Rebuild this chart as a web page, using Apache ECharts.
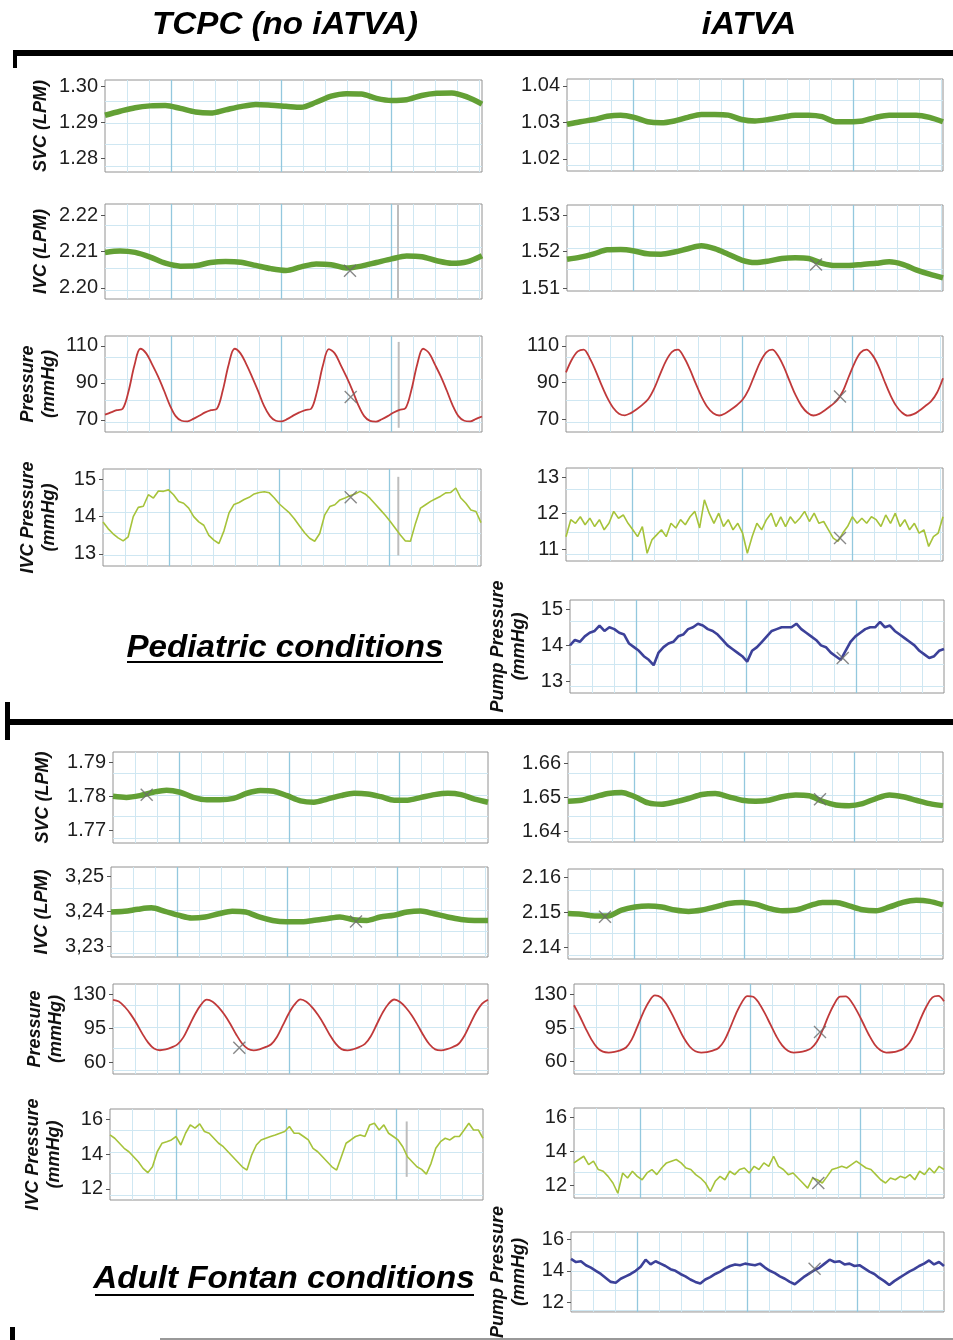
<!DOCTYPE html>
<html>
<head>
<meta charset="utf-8">
<title>TCPC vs iATVA waveforms</title>
<script src="https://cdn.jsdelivr.net/npm/echarts@6/dist/echarts.min.js"></script>
<style>
html,body{margin:0;padding:0;background:#fff}
#chart{width:953px;height:1340px}
</style>
</head>
<body>
<div id="chart"></div>
<script>

// pediatric, TCPC (no iATVA)
const pedTcpcSvc = [1.2919, 1.2930, 1.2940, 1.2945, 1.2946, 1.2938, 1.2928, 1.2925, 1.2934, 1.2943, 1.2949, 1.2947, 1.2944, 1.2941, 1.2955, 1.2972, 1.2979, 1.2978, 1.2966, 1.2960, 1.2962, 1.2974, 1.2980, 1.2981, 1.2970, 1.2950]
const pedTcpcIvc = [2.2098, 2.2102, 2.2098, 2.2085, 2.2068, 2.2060, 2.2061, 2.2070, 2.2073, 2.2071, 2.2062, 2.2053, 2.2048, 2.2058, 2.2066, 2.2064, 2.2055, 2.2060, 2.2070, 2.2080, 2.2088, 2.2086, 2.2075, 2.2068, 2.2072, 2.2089]
const pedTcpcPress = [72.8, 74, 75.2,
  76, 85.5, 99.5, 108.5, 106, 100, 93.5, 86, 78, 72, 69.5, 69.2, 70.5, 72.2, 74, 75.2,
  76, 86, 100, 108.5, 106, 100, 93, 85.5, 77.5, 72, 69.5, 69.2, 70.5, 72.4, 74, 75.3,
  76, 85.5, 99.5, 108.3, 106, 99.8, 93.2, 86, 78, 72, 69.4, 69, 70.3, 72, 74, 75.4,
  76.2, 86, 100, 108.5, 106.2, 100, 93.5, 86, 78, 72, 69.5, 69.2, 70.5, 71.8]
const pedTcpcIvcP = [13.86, 13.68, 13.54, 13.43, 13.35, 13.46, 14.0, 14.25, 14.28, 14.59, 14.5, 14.69, 14.68, 14.72, 14.59, 14.41, 14.36, 14.23, 14.0, 13.86, 13.77, 13.5, 13.37, 13.28, 13.62, 14.1, 14.33, 14.38, 14.46, 14.52, 14.61, 14.65, 14.67, 14.64, 14.5, 14.34, 14.22, 14.1, 13.94, 13.75, 13.57, 13.42, 13.34, 13.55, 14.05, 14.27, 14.32, 14.45, 14.5, 14.56, 14.61, 14.68, 14.61, 14.49, 14.34, 14.19, 14.04, 13.87, 13.69, 13.51, 13.35, 13.34, 13.82, 14.23, 14.32, 14.41, 14.48, 14.55, 14.64, 14.65, 14.77, 14.5, 14.36, 14.18, 14.14, 13.84]

// pediatric, iATVA
const pedIatvaSvc = [1.0295, 1.0302, 1.0308, 1.0317, 1.0320, 1.0314, 1.0302, 1.0299, 1.0304, 1.0314, 1.0322, 1.0322, 1.0320, 1.0308, 1.0304, 1.0308, 1.0314, 1.0320, 1.0320, 1.0316, 1.0302, 1.0302, 1.0304, 1.0314, 1.0320, 1.0320, 1.0320, 1.0314, 1.0302]
const pedIatvaIvc = [1.5179, 1.5185, 1.5194, 1.5205, 1.5206, 1.5202, 1.5194, 1.5193, 1.5199, 1.5208, 1.5216, 1.5208, 1.5193, 1.5177, 1.5170, 1.5174, 1.5181, 1.5183, 1.5181, 1.5168, 1.5162, 1.5162, 1.5165, 1.5168, 1.5172, 1.5165, 1.5150, 1.5138, 1.5128]
const pedIatvaPress = [95.6, 102.6, 107, 108, 103.5, 96.7, 88.9, 81.8, 76.3, 73.1, 72.2, 73.4, 75.5, 78, 81.2, 87, 94.8, 102, 106.8, 108, 104, 97.5, 89.7, 82.4, 76.7, 73.3, 72.1, 73.2, 75.3, 77.7, 80.8, 86.2, 94, 101.4, 106.5, 108, 104.6, 98.4, 90.5, 83, 77.2, 73.6, 72.1, 73, 75.1, 77.5, 80.3, 85.3, 93.2, 100.8, 106.3, 108, 105.1, 99.3, 91.3, 83.7, 77.6, 73.8, 72, 72.8, 74.8, 77.3, 79.9, 84.6, 92.4]
const pedIatvaIvcP = [11.35, 11.82, 11.72, 11.9, 11.68, 11.86, 11.63, 11.82, 11.54, 11.72, 12.05, 11.86, 11.95, 11.72, 11.54, 11.35, 11.63, 10.89, 11.26, 11.4, 11.54, 11.35, 11.72, 11.59, 11.82, 11.68, 11.9, 12.05, 11.59, 12.37, 12.0, 11.72, 12.0, 11.63, 11.82, 11.54, 11.72, 11.45, 10.89, 11.35, 11.72, 11.54, 11.82, 12.0, 11.63, 11.9, 11.63, 11.9, 11.72, 11.86, 12.05, 11.77, 12.0, 11.72, 11.77, 11.54, 11.31, 11.22, 11.45, 11.63, 11.9, 11.72, 11.86, 11.72, 11.9, 11.82, 11.63, 11.95, 11.72, 12.0, 11.63, 11.82, 11.54, 11.72, 11.45, 11.54, 11.08, 11.35, 11.45, 11.9]
const pedIatvaPump = [14.0, 14.15, 14.1, 14.25, 14.35, 14.4, 14.55, 14.4, 14.5, 14.45, 14.35, 14.3, 14.05, 13.95, 13.85, 13.7, 13.6, 13.45, 13.8, 13.95, 14.05, 14.1, 14.25, 14.3, 14.45, 14.5, 14.6, 14.55, 14.45, 14.4, 14.3, 14.15, 14.0, 13.9, 13.8, 13.7, 13.55, 13.85, 13.95, 14.1, 14.25, 14.4, 14.45, 14.5, 14.5, 14.5, 14.6, 14.45, 14.35, 14.25, 14.15, 14.0, 13.95, 13.8, 13.7, 13.6, 13.85, 14.1, 14.25, 14.35, 14.45, 14.5, 14.5, 14.65, 14.5, 14.55, 14.4, 14.3, 14.2, 14.1, 14.0, 13.85, 13.75, 13.65, 13.7, 13.85, 13.9]

// adult Fontan, TCPC (no iATVA)
const adultTcpcSvc = [1.7800, 1.7797, 1.7802, 1.7812, 1.7818, 1.7812, 1.7797, 1.7790, 1.7790, 1.7794, 1.7809, 1.7817, 1.7815, 1.7802, 1.7787, 1.7783, 1.7792, 1.7802, 1.7809, 1.7807, 1.7799, 1.7789, 1.7789, 1.7797, 1.7805, 1.7809, 1.7805, 1.7792, 1.7783]
const adultTcpcIvc = [3.2397, 3.2399, 3.2405, 3.2409, 3.2399, 3.2388, 3.2380, 3.2383, 3.2392, 3.2399, 3.2397, 3.2383, 3.2373, 3.2369, 3.2369, 3.2373, 3.2378, 3.2383, 3.2375, 3.2373, 3.2383, 3.2388, 3.2397, 3.2400, 3.2392, 3.2383, 3.2376, 3.2373, 3.2373]
const adultTcpcPress = [124.1, 122.4, 117, 109.5, 100.2, 89.6, 80.4, 74.4, 72.7, 73.5, 75.6, 78.7, 85.8, 97.4, 109.4, 118.9, 124.2, 122.2, 116.7, 109.1, 99.7, 89, 79.8, 74.2, 72.6, 73.6, 75.8, 78.8, 86.5, 98.2, 110.2, 119.4, 124.5, 122.1, 116.3, 108.5, 99, 88.3, 79.4, 73.8, 72.6, 73.7, 75.9, 79.1, 87, 98.9, 110.8, 119.8, 124.4, 121.8, 116, 108.1, 98.3, 87.7, 78.8, 73.6, 72.6, 73.8, 76, 79.3, 87.7, 99.8, 111.6, 120.3, 124.2]
const adultTcpcIvcP = [15.12, 14.93, 14.64, 14.35, 14.15, 13.86, 13.57, 13.19, 12.94, 13.28, 14.15, 14.64, 14.73, 14.83, 15.03, 14.54, 15.22, 15.7, 15.51, 15.76, 15.32, 15.22, 14.93, 14.64, 14.44, 14.15, 13.86, 13.57, 13.28, 13.09, 13.96, 14.54, 14.83, 14.93, 15.03, 15.12, 15.22, 15.32, 15.61, 15.22, 15.22, 15.03, 14.83, 14.35, 14.15, 13.86, 13.57, 13.28, 13.09, 13.86, 14.64, 14.83, 15.03, 15.12, 15.03, 15.7, 15.8, 15.41, 15.7, 15.22, 15.03, 14.83, 14.44, 13.86, 13.57, 13.28, 13.13, 12.86, 13.48, 14.35, 14.73, 14.93, 14.83, 15.03, 15.03, 15.41, 15.8, 15.41, 15.41, 14.93]

// adult Fontan, iATVA
const adultIatvaSvc = [1.6489, 1.6492, 1.6502, 1.6512, 1.6515, 1.6502, 1.6484, 1.6480, 1.6487, 1.6497, 1.6509, 1.6512, 1.6502, 1.6492, 1.6489, 1.6492, 1.6502, 1.6507, 1.6505, 1.6489, 1.6478, 1.6476, 1.6482, 1.6497, 1.6507, 1.6502, 1.6492, 1.6482, 1.6476]
const adultIatvaIvc = [2.1497, 2.1495, 2.1490, 2.1490, 2.1507, 2.1516, 2.1519, 2.1516, 2.1507, 2.1503, 2.1507, 2.1516, 2.1526, 2.1529, 2.1524, 2.1512, 2.1505, 2.1507, 2.1519, 2.1529, 2.1529, 2.1519, 2.1508, 2.1505, 2.1516, 2.1529, 2.1535, 2.1532, 2.1522]
const adultIatvaPress = [118.6, 107.2, 94.7, 83.2, 74.7, 70.4, 69.5, 70.2, 71.8, 74.7, 83.1, 97, 111.3, 122.6, 128.8, 127, 119.7, 108.8, 96.5, 84.6, 75.8, 70.8, 69.5, 70, 71.5, 74.2, 81.9, 95, 109.5, 121.3, 128.2, 127.4, 120.8, 110.4, 98.4, 86.4, 76.9, 71.3, 69.5, 69.9, 71.2, 73.8, 80.6, 92.7, 107.3, 119.6, 127.5, 127.8, 122, 112, 100.2, 88, 77.9, 71.8, 69.5, 69.8, 71, 73.5, 79.3, 90.8, 105.2, 117.8, 126.8, 128.3, 122.8]
const adultIatvaIvcP = [13.31, 13.51, 13.7, 13.21, 13.41, 12.92, 12.82, 12.52, 12.13, 11.53, 12.72, 12.42, 12.82, 12.52, 12.32, 12.72, 12.92, 12.62, 13.01, 13.31, 13.41, 13.51, 13.31, 13.01, 12.92, 12.62, 12.42, 12.13, 11.63, 12.23, 12.52, 12.32, 12.82, 12.62, 12.92, 13.01, 12.72, 13.11, 12.92, 13.31, 13.11, 13.7, 13.11, 12.92, 12.62, 12.72, 12.42, 12.13, 11.83, 12.42, 12.32, 12.13, 12.52, 12.92, 13.01, 13.11, 13.01, 13.21, 13.41, 13.21, 13.01, 12.92, 12.62, 12.32, 12.13, 12.42, 12.32, 12.52, 12.42, 12.62, 12.32, 12.82, 12.62, 13.01, 12.72, 13.11, 12.92]
const adultIatvaPump = [14.75, 14.55, 14.6, 14.35, 14.2, 14.0, 13.8, 13.55, 13.3, 13.25, 13.5, 13.65, 13.8, 14.0, 14.25, 14.7, 14.4, 14.6, 14.45, 14.3, 14.1, 14.0, 13.8, 13.65, 13.45, 13.3, 13.2, 13.45, 13.6, 13.8, 13.95, 14.15, 14.3, 14.4, 14.35, 14.45, 14.4, 14.35, 14.45, 14.2, 14.0, 13.85, 13.65, 13.5, 13.3, 13.15, 13.4, 13.65, 13.85, 14.05, 14.2, 14.45, 14.7, 14.55, 14.6, 14.4, 14.45, 14.3, 14.35, 14.15, 13.95, 13.8, 13.55, 13.35, 13.1, 13.35, 13.55, 13.75, 13.95, 14.1, 14.3, 14.45, 14.65, 14.4, 14.55, 14.3]

// y tick values
const ticksPedTcpcSvc = [1.28, 1.29, 1.30]
const ticksPedTcpcIvc = [2.20, 2.21, 2.22]
const ticksPedPress = [70, 90, 110]
const ticksPedTcpcIvcP = [13, 14, 15]
const ticksPedIatvaSvc = [1.02, 1.03, 1.04]
const ticksPedIatvaIvc = [1.51, 1.52, 1.53]
const ticksPedIatvaIvcP = [11, 12, 13]
const ticksPedPump = [13, 14, 15]
const ticksAdultTcpcSvc = [1.77, 1.78, 1.79]
const ticksAdultTcpcIvc = [3.23, 3.24, 3.25]
const ticksAdultPress = [60, 95, 130]
const ticksAdultIvcP = [12, 14, 16]
const ticksAdultIatvaSvc = [1.64, 1.65, 1.66]
const ticksAdultIatvaIvc = [2.14, 2.15, 2.16]
const ticksAdultPump = [12, 14, 16]

// cursor crosses [time, value] and cursor bars [time, low, high]
const crossPedTcpcIvc = [245, 2.2047]
const crossPedTcpcPress = [245.7, 82.3]
const crossPedTcpcIvcP = [247.7, 14.52]
const crossPedIatvaIvc = [249, 1.5165]
const crossPedIatvaPress = [274, 82.5]
const crossPedIatvaIvcP = [274, 11.31]
const crossPedIatvaPump = [272.7, 13.65]
const crossAdultTcpcSvc = [33.7, 1.7805]
const crossAdultTcpcIvc = [245, 3.2370]
const crossAdultTcpcPress = [126.3, 75.3]
const crossAdultIatvaSvc = [252, 1.6495]
const crossAdultIatvaIvc = [37, 2.1488]
const crossAdultIatvaPress = [246, 90.8]
const crossAdultIatvaIvcP = [244.3, 12.13]
const crossAdultIatvaPump = [243.6, 14.13]
const barPedTcpcIvc = [293, 2.1972, 2.2229]
const barPedTcpcPress = [293.7, 65.7, 112.2]
const barPedTcpcIvcP = [295.3, 12.96, 15.07]
const barAdultTcpcIvcP = [296.7, 12.7, 15.9]

const CELL = 22, ROW = 21.5
const MINOR = '#cfe7f2', MAJOR = '#93c8de'
const LINE = {
    flow: {color: '#63a035', width: 5.5, smooth: 0.3},
    press: {color: '#c0393a', width: 1.8, smooth: 0.35},
    ivcp: {color: '#a6c33a', width: 1.6, smooth: false},
    pump: {color: '#3c4199', width: 2.6, smooth: false}
}

const panels = [
    {left: 105, top: 80, width: 377, height: 92, min: 1.2761, max: 1.3017, ticks: ticksPedTcpcSvc, dec: 2, name: 'SVC (LPM)', gap: 53, data: pedTcpcSvc, kind: 'flow'},
    {left: 105, top: 204, width: 377, height: 95, min: 2.1969, max: 2.2232, ticks: ticksPedTcpcIvc, dec: 2, name: 'IVC (LPM)', gap: 53, data: pedTcpcIvc, kind: 'flow', cross: crossPedTcpcIvc, bar: barPedTcpcIvc},
    {left: 105, top: 336, width: 377, height: 96, min: 63.4, max: 115.4, ticks: ticksPedPress, dec: 0, name: 'Pressure\n(mmHg)', gap: 45, data: pedTcpcPress, kind: 'press', cross: crossPedTcpcPress, bar: barPedTcpcPress},
    {left: 103, top: 469, width: 378, height: 97, min: 12.676, max: 15.28, ticks: ticksPedTcpcIvcP, dec: 0, name: 'IVC Pressure\n(mmHg)', gap: 43, data: pedTcpcIvcP, kind: 'ivcp', cross: crossPedTcpcIvcP, bar: barPedTcpcIvcP},

    {left: 567, top: 79, width: 376, height: 92, min: 1.0167, max: 1.0419, ticks: ticksPedIatvaSvc, dec: 2, data: pedIatvaSvc, kind: 'flow'},
    {left: 567, top: 205, width: 376, height: 86, min: 1.5092, max: 1.5328, ticks: ticksPedIatvaIvc, dec: 2, data: pedIatvaIvc, kind: 'flow', cross: crossPedIatvaIvc},
    {left: 566, top: 336, width: 377, height: 96, min: 63.1, max: 115.4, ticks: ticksPedPress, dec: 0, data: pedIatvaPress, kind: 'press', cross: crossPedIatvaPress},
    {left: 566, top: 468, width: 377, height: 93, min: 10.677, max: 13.249, ticks: ticksPedIatvaIvcP, dec: 0, data: pedIatvaIvcP, kind: 'ivcp', cross: crossPedIatvaIvcP},
    {left: 570, top: 600, width: 374, height: 93, min: 12.68, max: 15.257, ticks: ticksPedPump, dec: 0, name: 'Pump Pressure\n(mmHg)', gap: 40, data: pedIatvaPump, kind: 'pump', cross: crossPedIatvaPump},

    {left: 113, top: 752, width: 375, height: 91, min: 1.76641, max: 1.79292, ticks: ticksAdultTcpcSvc, dec: 2, name: 'SVC (LPM)', gap: 59, data: adultTcpcSvc, kind: 'flow', cross: crossAdultTcpcSvc},
    {left: 111, top: 867, width: 377, height: 90, min: 3.22686, max: 3.25257, ticks: ticksAdultTcpcIvc, dec: 2, comma: true, name: 'IVC (LPM)', gap: 58, data: adultTcpcIvc, kind: 'flow', cross: crossAdultTcpcIvc},
    {left: 113, top: 984, width: 375, height: 90, min: 48.47, max: 140.2, ticks: ticksAdultPress, dec: 0, name: 'Pressure\n(mmHg)', gap: 46, data: adultTcpcPress, kind: 'press', cross: crossAdultTcpcPress},
    {left: 110, top: 1109, width: 373, height: 91, min: 11.362, max: 16.62, ticks: ticksAdultIvcP, dec: 0, name: 'IVC Pressure\n(mmHg)', gap: 45, data: adultTcpcIvcP, kind: 'ivcp', bar: barAdultTcpcIvcP},

    {left: 568, top: 752, width: 375, height: 90, min: 1.6369, max: 1.66339, ticks: ticksAdultIatvaSvc, dec: 2, data: adultIatvaSvc, kind: 'flow', cross: crossAdultIatvaSvc},
    {left: 568, top: 869, width: 375, height: 90, min: 2.13664, max: 2.1625, ticks: ticksAdultIatvaIvc, dec: 2, data: adultIatvaIvc, kind: 'flow', cross: crossAdultIatvaIvc},
    {left: 574, top: 984, width: 370, height: 90, min: 47.2, max: 140.7, ticks: ticksAdultPress, dec: 0, data: adultIatvaPress, kind: 'press', cross: crossAdultIatvaPress},
    {left: 574, top: 1108, width: 370, height: 90, min: 11.25, max: 16.53, ticks: ticksAdultIvcP, dec: 0, data: adultIatvaIvcP, kind: 'ivcp', cross: crossAdultIatvaIvcP},
    {left: 571, top: 1232, width: 373, height: 88, min: 11.41, max: 16.44, ticks: ticksAdultPump, dec: 0, name: 'Pump Pressure\n(mmHg)', gap: 41, data: adultIatvaPump, kind: 'pump', cross: crossAdultIatvaPump}
]

const grid = [], xAxis = [], yAxis = [], series = []

panels.forEach((p, i) => {
    const cols = [], rows = []
    for (let t = CELL; t < p.width - 1; t += CELL) cols.push(t)
    for (let t = ROW; t < p.height - 1; t += ROW) rows.push(t)
    const majors = [3 * CELL, 8 * CELL, 13 * CELL]

    grid.push({left: p.left, top: p.top, width: p.width, height: p.height, show: true, backgroundColor: '#fff', borderColor: '#929292', borderWidth: 1})

    // time axis carries the fine paper grid, the second one the darker columns
    xAxis.push({type: 'value', gridIndex: i, min: 0, max: p.width,
        axisLine: {show: false}, axisLabel: {show: false},
        axisTick: {show: false, customValues: cols},
        splitLine: {show: true, lineStyle: {color: MINOR, width: 1}}})
    xAxis.push({type: 'value', gridIndex: i, min: 0, max: p.width,
        axisLine: {show: false}, axisLabel: {show: false},
        axisTick: {show: false, customValues: majors},
        splitLine: {show: true, lineStyle: {color: MAJOR, width: 1.3}}})

    yAxis.push({type: 'value', gridIndex: i, min: p.min, max: p.max,
        axisLine: {show: false},
        axisTick: {show: true, length: 4, customValues: p.ticks, lineStyle: {color: '#555'}},
        axisLabel: {customValues: p.ticks, margin: 7, fontSize: 20, color: '#1e1e1e', fontFamily: 'Liberation Sans',
            formatter: v => {
                const s = v.toFixed(p.dec)
                return p.comma ? s.replace('.', ',') : s
            }},
        splitLine: {show: false},
        name: p.name || '', nameLocation: 'middle', nameRotate: 90, nameGap: p.gap || 0,
        nameTextStyle: {fontSize: 18, fontWeight: 'bold', fontStyle: 'italic', fontFamily: 'Liberation Sans', color: '#111', lineHeight: 21}})
    yAxis.push({type: 'value', gridIndex: i, min: 0, max: p.height, inverse: true,
        axisLine: {show: false}, axisLabel: {show: false},
        axisTick: {show: false, customValues: rows},
        splitLine: {show: true, lineStyle: {color: MINOR, width: 1}}})

    const st = LINE[p.kind]
    const step = p.width / (p.data.length - 1)

    if (p.bar) {
        series.push({type: 'line', xAxisIndex: 2 * i, yAxisIndex: 2 * i, symbol: 'none', silent: true, z: 2,
            data: [[p.bar[0], p.bar[1]], [p.bar[0], p.bar[2]]],
            lineStyle: {color: '#bdbdbd', width: 2}})
    }
    series.push({type: 'line', xAxisIndex: 2 * i, yAxisIndex: 2 * i, symbol: 'none', silent: true, z: 3,
        smooth: st.smooth,
        data: p.data.map((v, k) => [k * step, v]),
        lineStyle: {color: st.color, width: st.width, cap: 'butt'}})
    if (p.cross) {
        series.push({type: 'scatter', xAxisIndex: 2 * i, yAxisIndex: 2 * i, silent: true, z: 4,
            symbol: 'path://M0,0L10,10M10,0L0,10', symbolSize: 12,
            data: [p.cross],
            itemStyle: {color: 'rgba(0,0,0,0)', borderColor: '#6a6a6a', borderWidth: 1.4}})
    }
})

const heading = {fill: '#000', fontSize: 31, fontWeight: 'bold', fontStyle: 'italic', fontFamily: 'Liberation Sans', textAlign: 'center', textVerticalAlign: 'middle'}

const option = {
    animation: false,
    grid: grid,
    xAxis: xAxis,
    yAxis: yAxis,
    series: series,
    graphic: [
        {type: 'rect', shape: {x: 13, y: 50, width: 940, height: 6}, style: {fill: '#000'}},
        {type: 'rect', shape: {x: 13, y: 50, width: 4, height: 18}, style: {fill: '#000'}},
        {type: 'rect', shape: {x: 5, y: 719, width: 948, height: 6}, style: {fill: '#000'}},
        {type: 'rect', shape: {x: 5, y: 702, width: 5, height: 38}, style: {fill: '#000'}},
        {type: 'rect', shape: {x: 10, y: 1327, width: 5, height: 13}, style: {fill: '#000'}},
        {type: 'rect', shape: {x: 160, y: 1338, width: 793, height: 2}, style: {fill: '#999'}},
        {type: 'text', x: 285, y: 25, scaleX: 1.07, style: Object.assign({text: 'TCPC (no iATVA)'}, heading)},
        {type: 'text', x: 749, y: 25, scaleX: 1.07, style: Object.assign({text: 'iATVA'}, heading)},
        {type: 'text', x: 285, y: 648, scaleX: 1.07, style: Object.assign({text: 'Pediatric conditions'}, heading)},
        {type: 'rect', shape: {x: 127, y: 661, width: 316, height: 2}, style: {fill: '#000'}},
        {type: 'text', x: 284, y: 1279, scaleX: 1.07, style: Object.assign({text: 'Adult Fontan conditions'}, heading)},
        {type: 'rect', shape: {x: 95, y: 1294, width: 379, height: 2}, style: {fill: '#000'}}
    ]
}

echarts.init(document.getElementById('chart'), null, {renderer: 'canvas'}).setOption(option)
</script>
</body>
</html>
